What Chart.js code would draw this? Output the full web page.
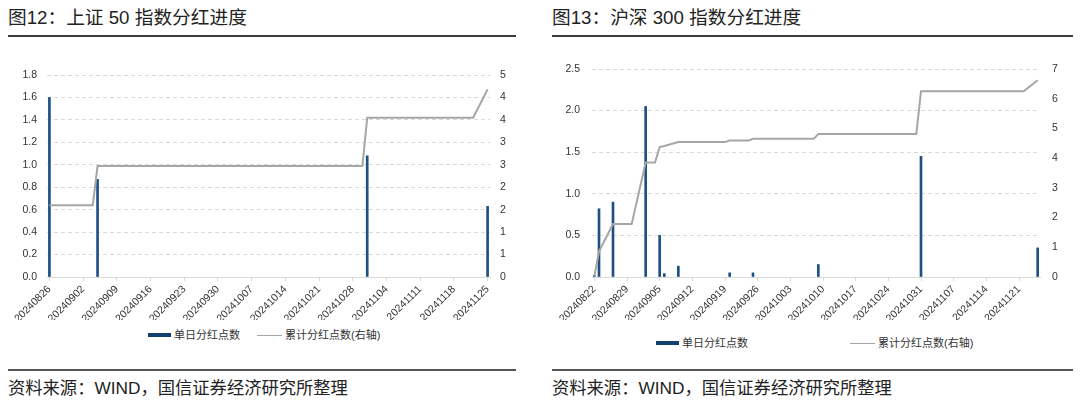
<!DOCTYPE html>
<html>
<head>
<meta charset="utf-8">
<script src="https://cdn.jsdelivr.net/npm/chart.js@4/dist/chart.umd.min.js"></script>
<style>
  body { margin: 0; background: #fff; font-family: "Liberation Sans", "Noto Sans CJK SC", sans-serif; color: #222; }
  #page { position: relative; width: 1080px; height: 403px; overflow: hidden; }
  .title { position: absolute; top: 5px; font-size: 18.7px; line-height: 26px; white-space: nowrap; }
  .rule { position: absolute; height: 2px; background: #3c3c3c; }
  .src { position: absolute; top: 376px; font-size: 17.3px; line-height: 24px; white-space: nowrap; }
  .box { position: absolute; top: 40px; width: 540px; height: 280px; }
  .legend { position: absolute; font-size: 11px; line-height: 14px; color: #333; white-space: nowrap; }
  .legend span { position: absolute; top: 0; }
  .sw-bar { display: inline-block; width: 23px; height: 4px; background: #123f6e; vertical-align: middle; margin-top: -2px; }
  .sw-line { display: inline-block; width: 25px; height: 1px; background: #a6a6a6; vertical-align: middle; margin-top: -1px; }
</style>
</head>
<body>
<div id="page">
  <div class="title" style="left:8px">图12：上证 50 指数分红进度</div>
  <div class="rule" style="left:8px; top:35px; width:508px"></div>
  <div class="title" style="left:552px">图13：沪深 300 指数分红进度</div>
  <div class="rule" style="left:552px; top:35px; width:521px"></div>

  <div class="box" style="left:0"><canvas id="c50"></canvas></div>
  <div class="box" style="left:540px"><canvas id="c300"></canvas></div>

  <div class="legend" style="left:148px; top:328px">
    <span style="left:0"><i class="sw-bar"></i> 单日分红点数</span>
    <span style="left:109px"><i class="sw-line"></i> 累计分红点数(右轴)</span>
  </div>
  <div class="legend" style="left:656px; top:336px">
    <span style="left:0"><i class="sw-bar"></i> 单日分红点数</span>
    <span style="left:194px"><i class="sw-line"></i> 累计分红点数(右轴)</span>
  </div>

  <div class="rule" style="left:8px; top:369px; width:508px; background:#555"></div>
  <div class="rule" style="left:552px; top:369px; width:521px; background:#555"></div>
  <div class="src" style="left:8px">资料来源：WIND，国信证券经济研究所整理</div>
  <div class="src" style="left:552px">资料来源：WIND，国信证券经济研究所整理</div>
</div>

<script>
// 上证50: date range, single-day dividend points, cumulative (right axis)
const sz50Start = '20240826';
const sz50End = '20241125';
const sz50BarDates = ['20240826', '20240905', '20241031', '20241125'];
const sz50Daily = [1.6, 0.87, 1.08, 0.63];
const sz50CumDates = ['20240826', '20240904', '20240905', '20241030', '20241031', '20241122', '20241125'];
const sz50Cum = [1.6, 1.6, 2.47, 2.47, 3.55, 3.55, 4.18];

// 沪深300
const hs300Start = '20240822';
const hs300End = '20241125';
const hs300BarDates = ['20240822', '20240823', '20240826', '20240902', '20240905', '20240906',
                       '20240909', '20240920', '20240925', '20241009', '20241031', '20241125'];
const hs300Daily = [0.02, 0.82, 0.90, 2.05, 0.50, 0.04, 0.13, 0.05, 0.05, 0.15, 1.45, 0.35];
const hs300CumDates = ['20240822', '20240823', '20240826', '20240830', '20240902', '20240904',
                       '20240905', '20240906', '20240909', '20240919', '20240920', '20240924',
                       '20240925', '20241008', '20241009', '20241030', '20241031', '20241122', '20241125'];
const hs300Cum = [0.02, 0.86, 1.78, 1.78, 3.85, 3.85, 4.37, 4.41, 4.54, 4.54, 4.59, 4.59,
                  4.65, 4.65, 4.81, 4.81, 6.25, 6.25, 6.62];

// calendar days between two yyyymmdd strings
function dayRange(start, end) {
    const toDate = s => new Date(Date.UTC(+s.slice(0, 4), +s.slice(4, 6) - 1, +s.slice(6, 8)));
    const out = [];
    const d = toDate(start);
    const e = toDate(end);
    while (d <= e) {
        const m = String(d.getUTCMonth() + 1).padStart(2, '0');
        const day = String(d.getUTCDate()).padStart(2, '0');
        out.push(d.getUTCFullYear() + m + day);
        d.setUTCDate(d.getUTCDate() + 1);
    }
    return out;
}

const pair = (xs, ys) => xs.map((x, i) => ({ x: x, y: ys[i] }));
const tickFont = { family: '"Liberation Sans", Arial, sans-serif', size: 10.5 };

function makeChart(id, o) {
    const ctx = document.getElementById(id).getContext('2d');
    return new Chart(ctx, {
        type: 'bar',
        data: {
            labels: o.labels,
            datasets: [{
                type: 'line',
                label: '累计分红点数(右轴)',
                data: o.cum,
                yAxisID: 'y1',
                borderColor: '#a6a6a6',
                borderWidth: 2,
                pointRadius: 0,
                spanGaps: true,
                tension: 0,
                order: 0
            }, {
                label: '单日分红点数',
                data: o.daily,
                yAxisID: 'y',
                backgroundColor: '#1d5186',
                barThickness: 2,
                order: 1
            }]
        },
        options: {
            responsive: true,
            maintainAspectRatio: false,
            animation: false,
            layout: { padding: { top: o.top, bottom: 0, left: 0, right: 0 } },
            plugins: { legend: { display: false }, tooltip: { enabled: false } },
            scales: {
                x: {
                    type: 'category',
                    offset: true,
                    grid: { drawOnChartArea: false, drawTicks: true, tickLength: 4, color: '#d9d9d9', offset: false },
                    border: { display: true, color: '#d9d9d9' },
                    ticks: { autoSkip: false, minRotation: 45, maxRotation: 45, padding: 2, color: '#333', font: tickFont },
                    afterBuildTicks: scale => { scale.ticks = scale.ticks.filter((t, i) => i % 7 === 0); },
                    afterFit: scale => { scale.height = o.xh; }
                },
                y: {
                    position: 'left',
                    min: 0, max: o.yMax,
                    grid: { color: '#d9d9d9', drawTicks: false },
                    border: { display: false, dash: [4, 3] },
                    ticks: { stepSize: o.yStep, padding: o.yPad, color: '#333', font: tickFont,
                             callback: v => v.toFixed(1) },
                    afterFit: scale => { scale.width = o.yw; }
                },
                y1: {
                    position: 'right',
                    min: 0, max: o.y1Max,
                    grid: { drawOnChartArea: false, drawTicks: false },
                    border: { display: false },
                    ticks: { stepSize: o.y1Step, padding: o.y1Pad, color: '#333', font: tickFont,
                             callback: v => Math.round(v) },
                    afterFit: scale => { scale.width = o.y1w; }
                }
            }
        }
    });
}

makeChart('c50', {
    labels: dayRange(sz50Start, sz50End),
    daily: pair(sz50BarDates, sz50Daily),
    cum: pair(sz50CumDates, sz50Cum),
    yMax: 1.8, yStep: 0.2, y1Max: 4.5, y1Step: 0.5,
    top: 35, xh: 43, yw: 47, yPad: 10, y1w: 50, y1Pad: 10
});

makeChart('c300', {
    labels: dayRange(hs300Start, hs300End),
    daily: pair(hs300BarDates, hs300Daily),
    cum: pair(hs300CumDates, hs300Cum),
    yMax: 2.5, yStep: 0.5, y1Max: 7, y1Step: 1,
    top: 29, xh: 43, yw: 52, yPad: 12, y1w: 40, y1Pad: 12
});
</script>
</body>
</html>
